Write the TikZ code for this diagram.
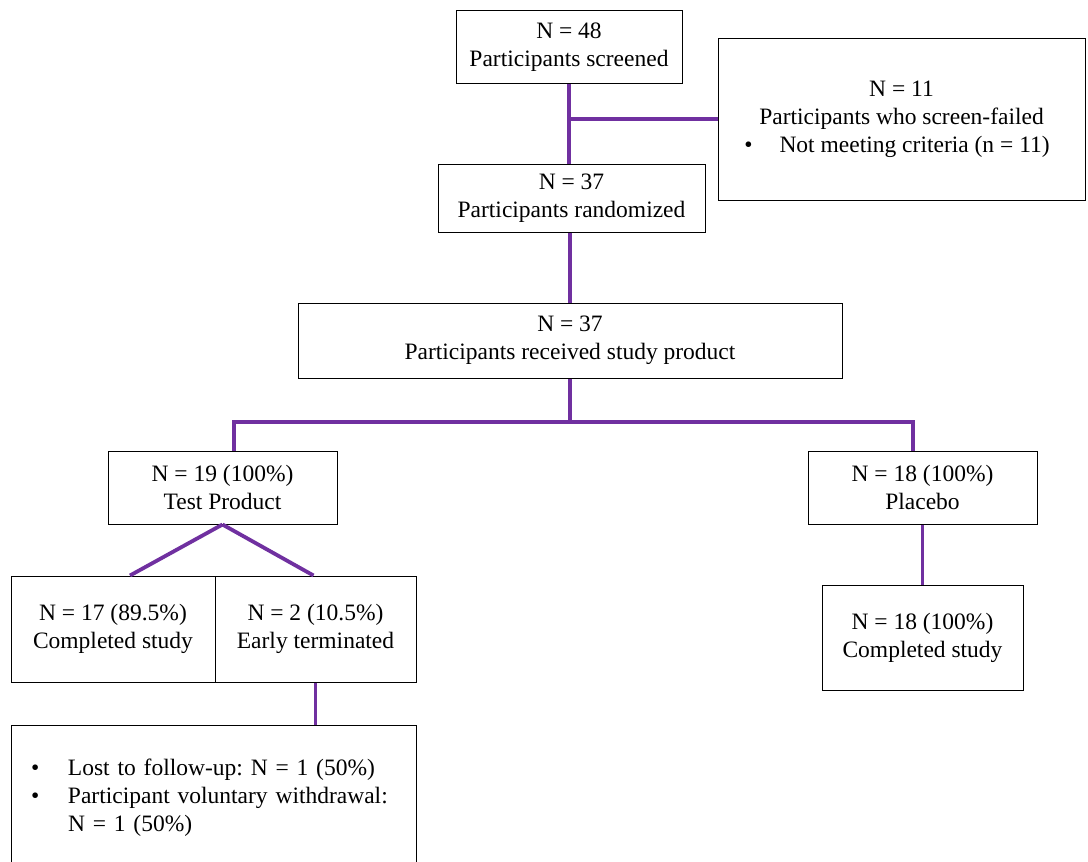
\documentclass[tikz,border=0pt]{standalone}
\usepackage{fontspec}
\setmainfont{Liberation Serif}
\usepackage{xcolor}
\usetikzlibrary{positioning, calc}
\definecolor{flowpurple}{HTML}{7030A0}
\frenchspacing
\tikzstyle{stage} = [rectangle, draw=black, line width=1pt, align=center, inner sep=0pt, font=\fontsize{23.5}{28}\selectfont]
\tikzstyle{link} = [line width=3.8pt, draw=flowpurple]

\begin{document}
\begin{tikzpicture}[x=1pt, y=-1pt]
    \path[use as bounding box, fill=white] (0,0) rectangle (1088,862);

    % Screening and randomization (top)
    \node (screened) [stage, minimum width=226pt, minimum height=73pt] at (569, 47) {N = 48\\Participants screened};
    \node (failed) [stage, minimum width=367pt, minimum height=162pt] at (901.5, 119) {N = 11\\Participants who screen-failed\\\textbullet\hspace{27pt}Not meeting criteria (n = 11)\hspace*{9pt}};
    \node (random) [stage, minimum width=267pt, minimum height=68pt] at (571.5, 198) {N = 37\\Participants randomized};
    \node (received) [stage, minimum width=544pt, minimum height=75pt] at (570, 340.5) {N = 37\\Participants received study product};

    \draw [link] (screened.south) -- (screened.south |- random.north);
    \draw [link] (screened.south |- failed.west) -- (failed.west);
    \draw [link] (received.north |- random.south) -- (received.north);

    % Treatment arms
    \node (test) [stage, minimum width=229pt, minimum height=73pt] at (222.5, 487.5) {N = 19 (100\%)\\Test Product};
    \node (placebo) [stage, minimum width=229pt, minimum height=73pt] at (922.5, 487.5) {N = 18 (100\%)\\Placebo};

    \coordinate (armL) at (234, 422);
    \coordinate (armR) at (913, 422);
    \draw [link] (received.south) -- (received.south |- armL);
    \draw [link] (armL |- test.north) -- (armL) -- (armR) -- (armR |- placebo.north);

    % Test product outcomes
    \node (tdone) [stage, minimum width=204pt, minimum height=106pt] at (113, 629) {N = 17 (89.5\%)\\Completed study};
    \node (early) [stage, minimum width=201pt, minimum height=106pt] at (315.5, 629) {N = 2 (10.5\%)\\Early terminated};
    \node (reasons) [stage, align=left, text width=365pt, inner xsep=20pt, minimum height=146pt] at (213.5, 798) {\makebox[37pt][l]{\textbullet}Lost to follow-up: N = 1 (50\%)\\\makebox[37pt][l]{\textbullet}Participant voluntary withdrawal:\\\hspace*{37pt}N = 1 (50\%)};

    \draw [link] (test.south) -- ([xshift=17pt]tdone.north);
    \draw [link] (test.south) -- ([xshift=-2pt]early.north);
    \draw [link] (early.south) -- (early.south |- reasons.north);

    % Placebo outcome
    \node (pdone) [stage, minimum width=201pt, minimum height=105pt] at (922.5, 637.5) {N = 18 (100\%)\\Completed study};
    \draw [link] (placebo.south) -- (placebo.south |- pdone.north);
\end{tikzpicture}
\end{document}
